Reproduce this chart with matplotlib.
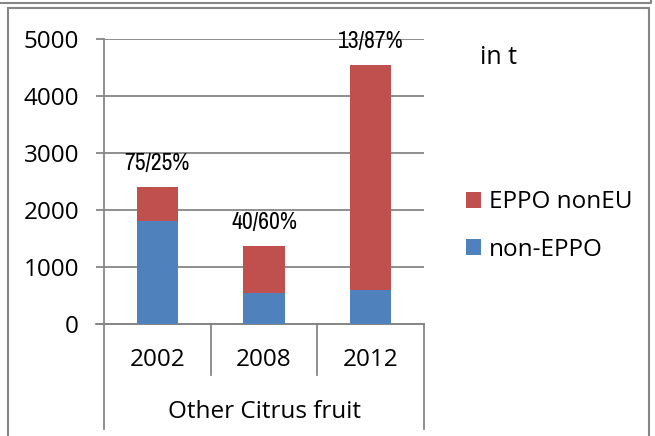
import matplotlib.pyplot as plt
from matplotlib.lines import Line2D
from matplotlib.patches import Rectangle
from matplotlib import font_manager

years = ["2002", "2008", "2012"]
non_eppo = [1800, 550, 590]
eppo_noneu = [600, 820, 3950]
shares = ["75/25%", "40/60%", "13/87%"]
group = "Other Citrus fruit"

blue = "#4F81BD"
red = "#C0504D"
grey = "#868686"
font = "Open Sans"

# narrow font for the share labels, if there is one
narrow = None
for f in font_manager.fontManager.ttflist:
    if "Narrow" in f.name or "Condensed" in f.name:
        narrow = f.name
        break
print(narrow)

fig = plt.figure(figsize=(6.55, 4.36), dpi=100)
ax = fig.add_axes([104 / 655, 1 - 324 / 436, 320 / 655, 285 / 436])

x = range(len(years))
ax.bar(x, non_eppo, width=0.39, color=blue, label="non-EPPO", zorder=3)
ax.bar(x, eppo_noneu, width=0.39, bottom=non_eppo, color=red,
       label="EPPO nonEU", zorder=3)

for i, s in enumerate(shares):
    top = non_eppo[i] + eppo_noneu[i]
    kw = {"family": narrow} if narrow else {"family": "DejaVu Sans", "stretch": "condensed"}
    ax.annotate(s, (i, top), xytext=(0, 17), textcoords="offset points",
                ha="center", va="center", fontsize=17, color="black", **kw)

ax.set_xlim(-0.5, 2.5)
ax.set_ylim(0, 5000)
ax.set_yticks(range(0, 5001, 1000))
ax.yaxis.grid(True, color=grey, lw=1.3, zorder=0)
ax.tick_params(axis="y", length=6, width=1.3, color=grey, pad=12,
               labelsize=17.5)
for lab in ax.get_yticklabels():
    lab.set_family(font)
ax.set_xticks([])
for side in ["top", "right"]:
    ax.spines[side].set_visible(False)
ax.spines["left"].set_color(grey)
ax.spines["left"].set_linewidth(1.3)
ax.spines["bottom"].set_color(grey)
ax.spines["bottom"].set_linewidth(1.3)

# category separators and labels below the axis
tr = ax.get_xaxis_transform()
for xs, y0 in [(-0.5, -0.37), (0.5, -0.18), (1.5, -0.18), (2.5, -0.37)]:
    ax.add_line(Line2D([xs, xs], [0, y0], transform=tr, color=grey,
                       lw=1.3, clip_on=False))
ax.add_line(Line2D([-0.575, 2.5], [0, 0], transform=tr, color=grey,
                   lw=1.3, clip_on=False))
for i, y in enumerate(years):
    ax.text(i, -0.125, y, transform=tr, ha="center", va="center",
            fontsize=17.5, family=font)
ax.text(1, -0.31, group, transform=tr, ha="center", va="center",
        fontsize=17.5, family=font)

fig.text(499 / 655, 1 - 58 / 436, "in t", ha="center", va="center",
         fontsize=18, family=font)

h, l = ax.get_legend_handles_labels()
ax.legend(h[::-1], l[::-1], loc="center left",
          bbox_to_anchor=(466 / 655, 1 - 226 / 436),
          bbox_transform=fig.transFigure, frameon=False,
          prop={"family": font, "size": 17.5}, handlelength=0.6,
          handleheight=0.6, handletextpad=0.35, labelspacing=0.95,
          borderpad=0, borderaxespad=0)

# outer frames
fig.add_artist(Rectangle((8 / 655, -0.1), 641 / 655, 1 - 8 / 436 + 0.1,
                         transform=fig.transFigure, fill=False,
                         edgecolor=grey, lw=1.5))
fig.add_artist(Line2D([0, 651 / 655, 651 / 655], [1 - 3 / 436] * 2 + [1.01],
                      transform=fig.transFigure, color=grey, lw=1.5))

fig.savefig("out.png", dpi=100)
